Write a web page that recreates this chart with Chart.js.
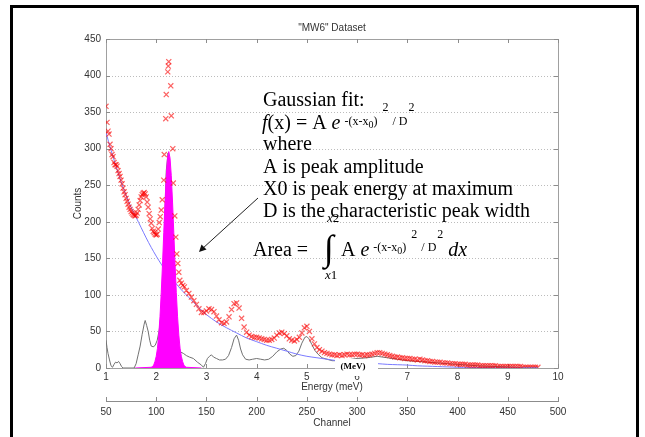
<!DOCTYPE html>
<html>
<head>
<meta charset="utf-8">
<script src="https://cdn.jsdelivr.net/npm/chart.js@4.4.0/dist/chart.umd.min.js"></script>
<style>
html, body { margin: 0; padding: 0; background: #fff; }
#wrap { position: relative; width: 645px; height: 437px; }
</style>
</head>
<body>
<div id="wrap"><canvas id="mw6"></canvas></div>
<script>
// measured spectrum (red x markers), energy in MeV
const rawEnergy = [
  1.00,1.02,1.04,1.06,1.08,1.10,1.12,1.14,1.16,1.18,1.20,1.22,1.24,1.26,1.28,1.30,1.32,1.34,1.36,1.38,
  1.40,1.42,1.44,1.46,1.48,1.50,1.52,1.54,1.56,1.58,1.60,1.62,1.64,1.66,1.68,1.70,1.72,1.74,1.76,1.78,
  1.80,1.82,1.84,1.86,1.88,1.90,1.92,1.94,1.96,1.98,2.00,2.02,2.04,2.06,2.08,2.10,2.12,
  2.15,2.16,2.19,2.20,2.23,2.24,2.25,2.29,2.30,2.33,2.34,2.37,2.39,2.41,2.43,2.45,2.47,2.50,2.53,2.56,
  2.60,2.65,2.70,2.75,2.80,2.85,2.90,2.95,3.00,3.05,3.10,3.15,3.20,3.25,3.30,3.35,3.40,3.45,3.50,3.55,
  3.60,3.65,3.70,3.75,3.80,3.85,3.90,3.95,4.00,4.05,4.10,4.15,4.20,4.25,4.30,4.35,4.40,4.45,4.50,4.55,
  4.60,4.65,4.70,4.75,4.80,4.85,4.90,4.95,5.00,5.05,5.10,5.15,5.20,5.25,5.30,5.35,5.40,5.45,5.50,5.55,
  5.60,5.65,5.70,5.75,5.80,5.85,5.90,5.95,6.00,6.05,6.10,6.15,6.20,6.25,6.30,6.35,6.40,6.45,6.50,6.55,
  6.60,6.65,6.70,6.75,6.80,6.85,6.90,6.95,7.00,7.05,7.10,7.15,7.20,7.25,7.30,7.35,7.40,7.45,7.50,7.55,
  7.60,7.65,7.70,7.75,7.80,7.85,7.90,7.95,8.00,8.05,8.10,8.15,8.20,8.25,8.30,8.35,8.40,8.45,8.50,8.55,
  8.60,8.65,8.70,8.75,8.80,8.85,8.90,8.95,9.00,9.05,9.10,9.15,9.20,9.25,9.30,9.35,9.40,9.45,9.50,9.55,
  9.60
];
const rawCounts = [
  358,336,324,320,306,300,292,289,281,278,278,276,270,266,262,257,252,246,241,237,
  232,228,224,220,217,214,212,210,209,208,209,212,217,223,229,234,237,239,240,238,
  234,227,220,211,204,198,191,187,185,183,182,183,190,199,207,216,230,
  257,292,341,374,405,413,419,386,345,300,253,208,179,156,143,131,120,116,113,111,
  106,102,97,92,87,81,76,76,78,81,80,77,71,66,62,61,63,70,80,88,
  89,82,68,56,49,45,43,42,42,41,40,39,38,38,39,41,45,48,49,47,
  44,40,38,37,39,42,48,55,57,50,40,33,28,25,23,21,20,19,18,18,
  17,18,17,18,19,18,18,19,19,18,18,17,18,18,19,20,21,21,20,19,
  18,17,16,15,15,14,14,13,13,13,12,12,11,12,11,10,10,9,9,8,
  8,8,7,7,7,6,6,6,5,5,5,5,4,4,4,4,4,3,3,3,
  3,3,3,3,2,2,2,2,2,2,2,2,2,2,1,1,1,1,1,1,
  1
];

// background fit (blue line)
const fitEnergy = [1.0,1.1,1.2,1.3,1.4,1.5,1.6,1.7,1.8,1.9,2.0,2.1,2.2,2.3,2.4,2.5,2.6,2.7,2.8,2.9,3.0,
  3.2,3.4,3.6,3.8,4.0,4.2,4.4,4.6,4.8,5.0,5.2,5.4,5.6,5.8,6.0,6.2,6.4,6.6,6.8,7.0,7.2,7.4,7.6,7.8,8.0,
  8.5,9.0,9.6];
const fitCounts = [322,298,276,255,236,220,206,192,178,165,153,142,132,123,115,107,100,93,86,79,73,
  63,55,48,41,36,31,27,23,19,16,14,12,10,9,8,7,6,5,4.5,4,3,2.5,2,1.5,1,
  0.6,0.4,0.3];

// data minus background (grey line)
const residualEnergy = [1.00,1.02,1.04,1.07,1.10,1.13,1.16,1.19,1.22,1.25,1.28,1.31,1.34,1.56,1.60,1.64,1.68,1.72,1.76,1.78,
  1.81,1.84,1.87,1.90,1.94,1.98,2.02,2.06,2.10,2.14,2.17,2.20,2.235,2.27,2.30,2.35,2.40,2.44,2.48,2.54,
  2.60,2.66,2.74,2.82,2.90,2.94,2.98,3.02,3.06,3.10,3.14,3.20,3.26,3.32,3.38,3.44,3.50,3.55,3.60,3.64,
  3.68,3.72,3.78,3.85,3.92,4.00,4.08,4.16,4.24,4.32,4.40,4.48,4.54,4.60,4.66,4.72,4.78,4.84,4.90,4.96,
  5.00,5.04,5.10,5.16,5.22,5.30,5.40,5.50,5.60,5.80,6.00,6.20,6.40,6.60,6.80,7.00,7.20,7.40,7.60,7.80,
  8.00,8.40,8.80,9.20,9.60];
const residualCounts = [38,28,20,11,3,1,5,8,7,9,6,2,0,0,6,18,30,46,60,65,
  58,50,38,30,29,31,38,52,75,100,200,270,294,260,200,110,50,25,22,20,
  17,15,13,8,4,1,6,13,16,18,15,13,11,11,12,17,28,40,45,38,
  26,18,12,11,12,13,12,11,12,16,22,26,27,24,19,16,17,23,34,42,
  43,40,32,24,19,14,12,10,10,11,13,14,16,14,12,10,9,8,7,6,
  5,3,2,1,1];

// gaussian peak (magenta fill)
const peakEnergy = [1.58,1.90,1.925,1.95,1.975,2.0,2.025,2.05,2.075,2.1,2.125,2.15,2.175,2.2,2.225,2.25,
  2.275,2.3,2.325,2.35,2.375,2.4,2.425,2.45,2.475,2.5,2.525,2.55,2.575,2.6,2.9];
const peakCounts = [0,1,2,4,9,16,27,45,70,103,142,185,227,263,287,296,
  287,263,227,185,142,103,70,45,27,16,9,4,2,1,0];

const energyTicks = [1,2,3,4,5,6,7,8,9,10];
const countTicks = [0,50,100,150,200,250,300,350,400,450];
const channelTicks = [50,100,150,200,250,300,350,400,450,500];

const pts = (xs, ys) => xs.map((x, i) => ({x: x, y: ys[i]}));

const SERIF = '"Liberation Serif", "Times New Roman", serif';

function runText(ctx, x, items) {
  items.forEach(function (it) {
    ctx.font = it[1];
    ctx.fillText(it[0], x, it[2]);
    x += ctx.measureText(it[0]).width;
  });
  return x;
}

const decor = {
  id: 'decor',
  beforeDraw(chart) {
    const ctx = chart.ctx;
    ctx.save();
    ctx.fillStyle = '#fff';
    ctx.fillRect(0, 0, chart.width, chart.height);
    ctx.restore();
  },
  beforeDatasetsDraw(chart) {
    const ctx = chart.ctx;
    const a = chart.chartArea;
    const xs = chart.scales.x, ys = chart.scales.y;
    ctx.save();
    // dotted horizontal grid
    ctx.strokeStyle = '#bcbcbc';
    ctx.lineWidth = 1;
    ctx.setLineDash([1, 2]);
    countTicks.slice(1, -1).forEach(function (v) {
      const py = Math.round(ys.getPixelForValue(v)) + 0.5;
      ctx.beginPath(); ctx.moveTo(a.left, py); ctx.lineTo(a.right, py); ctx.stroke();
    });
    ctx.setLineDash([]);
    // frame top / right
    ctx.strokeStyle = '#a0a0a0';
    ctx.beginPath();
    ctx.moveTo(a.left, a.top + 0.5); ctx.lineTo(a.right + 0.5, a.top + 0.5); ctx.lineTo(a.right + 0.5, a.bottom);
    ctx.stroke();
    // inward tick marks
    ctx.strokeStyle = '#8c8c8c';
    energyTicks.forEach(function (v) {
      const px = Math.round(xs.getPixelForValue(v)) + 0.5;
      ctx.beginPath(); ctx.moveTo(px, a.bottom); ctx.lineTo(px, a.bottom - 4); ctx.stroke();
      ctx.beginPath(); ctx.moveTo(px, a.top); ctx.lineTo(px, a.top + 4); ctx.stroke();
    });
    countTicks.forEach(function (v) {
      const py = Math.round(ys.getPixelForValue(v)) + 0.5;
      ctx.beginPath(); ctx.moveTo(a.left, py); ctx.lineTo(a.left + 4, py); ctx.stroke();
      ctx.beginPath(); ctx.moveTo(a.right, py); ctx.lineTo(a.right - 4, py); ctx.stroke();
    });
    const cs = chart.scales.x2;
    channelTicks.forEach(function (v) {
      const px = Math.round(cs.getPixelForValue(v)) + 0.5;
      ctx.beginPath(); ctx.moveTo(px, cs.top); ctx.lineTo(px, cs.top - 4); ctx.stroke();
    });
    ctx.restore();
  },
  afterDraw(chart) {
    const ctx = chart.ctx;
    const a = chart.chartArea;
    ctx.save();
    // title
    ctx.fillStyle = '#333';
    ctx.font = '10px "Liberation Sans", Arial, sans-serif';
    ctx.textAlign = 'center';
    ctx.textBaseline = 'middle';
    ctx.fillText('"MW6" Dataset', (a.left + a.right) / 2, 28);

    // white patch with (MeV) over the axis
    ctx.fillStyle = '#fff';
    ctx.fillRect(335, 359, 43, 17);
    ctx.fillStyle = '#000';
    ctx.font = 'bold 9px ' + SERIF;
    ctx.fillText('(MeV)', 353, 367);

    // annotation text
    ctx.textAlign = 'left';
    ctx.textBaseline = 'alphabetic';
    ctx.fillStyle = '#000';
    const big = '20px ' + SERIF, bigI = 'italic 20px ' + SERIF;
    const sm = '12px ' + SERIF, sub = '10px ' + SERIF, smI = 'italic 13px ' + SERIF;
    ctx.font = big;
    ctx.fillText('Gaussian fit:', 263, 106);
    let x = runText(ctx, 262, [['f', bigI, 129], ['(x) = A ', big, 129], ['e', bigI, 129]]);
    x = runText(ctx, x + 1, [[' -(x-x', sm, 125], ['0', sub, 128], [')', sm, 125]]);
    x = runText(ctx, x + 5, [['2', sm, 111]]);
    x = runText(ctx, x + 4, [['/ D', sm, 125]]);
    runText(ctx, x + 1, [['2', sm, 111]]);
    ctx.font = big;
    ctx.fillText('where', 263, 150);
    ctx.fillText('A is peak amplitude', 263, 173);
    ctx.fillText('X0 is peak energy at maximum', 263, 195);
    ctx.fillText('D is the characteristic peak width', 263, 217);

    ctx.fillText('Area =', 253, 256);
    ctx.font = '36px ' + SERIF;
    ctx.fillText('\u222B', 324, 260);
    runText(ctx, 327, [['x', smI, 222], ['2', '13px ' + SERIF, 222]]);
    runText(ctx, 325, [['x', smI, 279], ['1', '13px ' + SERIF, 279]]);
    x = runText(ctx, 341, [['A ', big, 256], ['e', bigI, 256]]);
    x = runText(ctx, x + 1, [[' -(x-x', sm, 251], ['0', sub, 254], [')', sm, 251]]);
    x = runText(ctx, x + 5, [['2', sm, 238]]);
    x = runText(ctx, x + 4, [['/ D', sm, 251]]);
    x = runText(ctx, x + 1, [['2', sm, 238]]);
    runText(ctx, x + 5, [['dx', bigI, 256]]);

    // arrow to the peak
    ctx.strokeStyle = '#222';
    ctx.lineWidth = 1;
    ctx.beginPath(); ctx.moveTo(258, 198); ctx.lineTo(202, 249); ctx.stroke();
    ctx.fillStyle = '#111';
    ctx.beginPath();
    ctx.moveTo(199, 252); ctx.lineTo(201.5, 244.5); ctx.lineTo(206.5, 249.5); ctx.closePath();
    ctx.fill();

    // slide border
    ctx.strokeStyle = '#000';
    ctx.lineWidth = 3;
    ctx.strokeRect(11.5, 6.5, 626, 445);
    ctx.restore();
  }
};

Chart.defaults.font.family = '"Liberation Sans", Arial, sans-serif';
Chart.defaults.font.size = 10;
Chart.defaults.color = '#333';

new Chart(document.getElementById('mw6'), {
  type: 'scatter',
  data: {
    datasets: [
      {
        label: 'data',
        data: pts(rawEnergy, rawCounts),
        pointStyle: 'crossRot',
        pointRadius: 3.6,
        borderColor: 'rgba(250,0,0,0.62)',
        backgroundColor: 'rgba(250,0,0,0.62)',
        borderWidth: 1.2,
        showLine: false
      },
      {
        type: 'line',
        label: 'peak',
        data: pts(peakEnergy, peakCounts),
        borderColor: '#ff00ff',
        backgroundColor: '#ff00ff',
        borderWidth: 1,
        pointRadius: 0,
        fill: 'origin',
        tension: 0
      },
      {
        type: 'line',
        label: 'fit',
        data: pts(fitEnergy, fitCounts),
        borderColor: '#7b7bff',
        borderWidth: 1,
        pointRadius: 0,
        fill: false,
        tension: 0.3
      },
      {
        type: 'line',
        label: 'residual',
        data: pts(residualEnergy, residualCounts),
        borderColor: '#727272',
        borderWidth: 1,
        pointRadius: 0,
        fill: false,
        tension: 0
      }
    ]
  },
  options: {
    responsive: true,
    maintainAspectRatio: false,
    animation: false,
    layout: { padding: { top: 39, right: 87, left: 0, bottom: 0 } },
    plugins: { legend: { display: false }, tooltip: { enabled: false } },
    scales: {
      x: {
        type: 'linear', position: 'bottom', weight: 0,
        min: 1, max: 10,
        afterBuildTicks: s => { s.ticks = energyTicks.map(v => ({value: v})); },
        afterFit: s => { s.height = 33; },
        grid: { display: false, drawTicks: false },
        border: { display: true, color: '#a0a0a0' },
        ticks: { padding: 3, maxRotation: 0, autoSkip: false },
        title: { display: true, text: 'Energy (meV)', padding: { top: 0, bottom: 8 } }
      },
      x2: {
        type: 'linear', axis: 'x', position: 'bottom', weight: 1,
        min: 50, max: 500,
        afterBuildTicks: s => { s.ticks = channelTicks.map(v => ({value: v})); },
        afterFit: s => { s.height = 36; },
        grid: { display: false, drawTicks: false },
        border: { display: true, color: '#8c8c8c' },
        ticks: { padding: 5, maxRotation: 0, autoSkip: false },
        title: { display: true, text: 'Channel', padding: { top: 0, bottom: 8 } }
      },
      y: {
        type: 'linear', position: 'left',
        min: 0, max: 450,
        afterBuildTicks: s => { s.ticks = countTicks.map(v => ({value: v})); },
        afterFit: s => { s.width = 106; },
        grid: { display: false, drawTicks: false },
        border: { display: true, color: '#a0a0a0' },
        ticks: { padding: 5 },
        title: { display: true, text: 'Counts', padding: { top: 72, bottom: 0 } }
      }
    }
  },
  plugins: [decor]
});
</script>
</body>
</html>
